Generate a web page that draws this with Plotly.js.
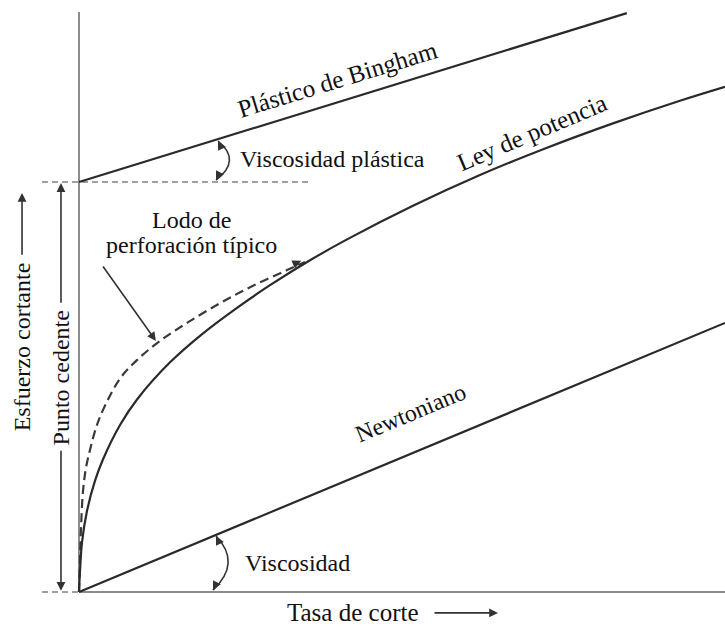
<!DOCTYPE html>
<html>
<head>
<meta charset="utf-8">
<script src="https://cdn.plot.ly/plotly-3.0.1.min.js"></script>
<style>html,body{margin:0;padding:0;background:#fff;}#chart{width:725px;height:631px;}</style>
</head>
<body>
<div id="chart"></div>
<script>
// ---- chart values (schematic units: shear rate 0..100, shear stress 0..100) ----
const binghamX = [0, 84.8];
const binghamY = [70.7, 99.8];

const newtonX = [0, 100];
const newtonY = [0, 46.4];

const powerX = [0, 0.15, 0.46, 1.24, 2.48, 3.72, 6.35, 8.98, 14.09, 19.2, 24.46, 29.57, 35.76, 41.49, 51.7, 62.07, 72.45, 82.66, 93.03, 100];
const powerY = [0, 3.5, 8.5, 14.0, 19.2, 22.9, 28.8, 33.2, 39.6, 44.6, 49.0, 52.9, 57.2, 60.8, 66.6, 71.9, 76.6, 80.8, 84.7, 87.1];

const mudX = [0, 0.15, 0.31, 0.62, 1.08, 1.7, 2.63, 3.72, 6.35, 8.98, 12.54, 16.72, 21.83, 26.93, 32.2, 34.98];
const mudY = [0, 5.5, 11.0, 17.4, 21.4, 24.5, 28.3, 31.4, 36.8, 40.0, 43.3, 46.4, 49.8, 52.8, 55.5, 56.9];

const axisMax = [100, 100];           // end of shear-rate axis, end of shear-stress axis
const yieldGuideX = [-5.73, 35.76];   // dashed yield-point guide
const originGuideX = [-5.73, 0];

const labels = {
  bingham: "Plástico de Bingham",
  pv: "Viscosidad plástica",
  power: "Ley de potencia",
  mud1: "Lodo de",
  mud2: "perforación típico",
  newton: "Newtoniano",
  visc: "Viscosidad",
  yp: "Punto cedente",
  stress: "Esfuerzo cortante",
  rate: "Tasa de corte"
};

// ---- styling ----
const FONT = "Liberation Serif, Times New Roman, serif";
const INK = "#2a2a2a";
const AXIS = "#8c8c8c";
const GUIDE = "#a0a0a0";

const traces = [
  {x: [0, axisMax[0]], y: [0, 0], mode: "lines", line: {color: AXIS, width: 2}},
  {x: [0, 0], y: [0, axisMax[1]], mode: "lines", line: {color: AXIS, width: 2}},
  {x: yieldGuideX, y: [binghamY[0], binghamY[0]], mode: "lines", line: {color: GUIDE, width: 2, dash: "6px,4px"}},
  {x: originGuideX, y: [0, 0], mode: "lines", line: {color: GUIDE, width: 2, dash: "6px,4px"}},
  {x: binghamX, y: binghamY, mode: "lines", line: {color: INK, width: 2.2}},
  {x: newtonX, y: newtonY, mode: "lines", line: {color: INK, width: 2.2}},
  {x: mudX, y: mudY, mode: "lines", line: {color: "#3a3a3a", width: 2.2, dash: "9px,5px", shape: "spline", smoothing: 1}},
  {x: powerX, y: powerY, mode: "lines", line: {color: INK, width: 2.2, shape: "spline", smoothing: 1}}
];

const txt = (text, x, y, angle, size, extra) => Object.assign({
  text: text, x: x, y: y, xref: "x", yref: "y", showarrow: false,
  textangle: angle || 0, xanchor: "center", yanchor: "middle",
  font: {family: FONT, size: size || 24, color: "#111"}
}, extra || {});

const arrow = (hx, hy, tx, ty) => ({
  x: hx, y: hy, ax: tx, ay: ty, xref: "x", yref: "y", axref: "x", ayref: "y",
  text: "", showarrow: true, arrowhead: 2, arrowsize: 1.1, arrowwidth: 1.6, arrowcolor: "#333"
});

const tick = (hx, hy, dx, dy) => ({
  x: hx, y: hy, ax: dx, ay: dy, xref: "x", yref: "y",
  text: "", showarrow: true, arrowhead: 2, arrowsize: 1.1, arrowwidth: 1.6, arrowcolor: "#333"
});

const annotations = [
  txt(labels.bingham, 40.0, 88.3, -17, 25),
  txt(labels.pv, 39.3, 74.66, 0),
  txt(labels.power, 70.1, 79.3, -23, 25),
  txt(labels.mud1, 17.34, 64.14, 0),
  txt(labels.mud2, 17.34, 59.83, 0),
  txt(labels.newton, 51.3, 30.8, -22.6),
  txt(labels.visc, 25.4, 5.0, 0, 24, {xanchor: "left"}),
  txt(labels.yp, -2.79, 37.0, -90),
  txt(labels.stress, -8.82, 42.2, -90),
  txt(labels.rate, 42.41, -3.6, 0, 25),
  arrow(-2.79, 70.5, -2.79, 49.6),
  arrow(-2.79, 0.2, -2.79, 24.6),
  arrow(-8.82, 68.79, -8.82, 57.9),
  arrow(64.86, -3.6, 54.8, -3.6),
  arrow(11.9, 43.3, 3.56, 56.38),
  tick(21.52, 77.76, 4, 8),
  tick(21.21, 71.03, 4, -8),
  tick(21.21, 9.66, 4, 8),
  tick(20.74, 0.34, 4, -8),
  tick(34.4, 57.1, -9, 4)
];

const shapes = [
  {type: "path", xref: "x", yref: "y", path: "M21.52,77.76 Q25.2,74.4 21.21,71.03", line: {color: "#333", width: 1.6}},
  {type: "path", xref: "x", yref: "y", path: "M21.21,9.66 Q25.2,5.0 20.74,0.34", line: {color: "#333", width: 1.6}}
];

const layout = {
  width: 725, height: 631,
  margin: {l: 0, r: 0, t: 0, b: 0, pad: 0},
  paper_bgcolor: "#fff", plot_bgcolor: "#fff",
  showlegend: false,
  xaxis: {range: [-12.23, 100], visible: false, fixedrange: true},
  yaxis: {range: [-6.72, 102.07], visible: false, fixedrange: true},
  annotations: annotations,
  shapes: shapes
};

Plotly.newPlot("chart", traces, layout, {staticPlot: true, displayModeBar: false});
</script>
</body>
</html>
